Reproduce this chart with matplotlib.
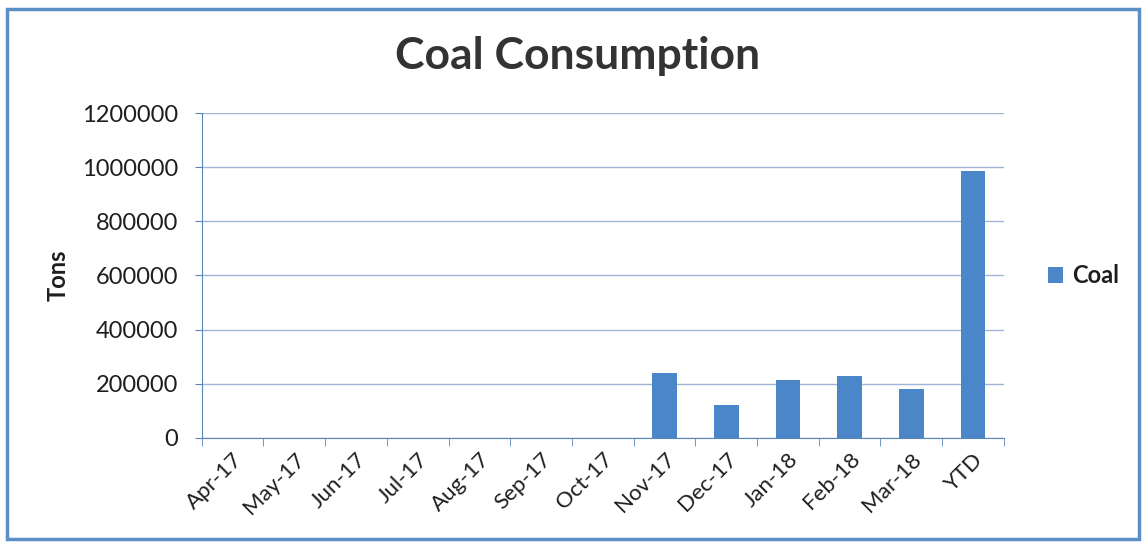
import matplotlib.pyplot as plt
import numpy as np
from matplotlib.patches import Rectangle

# Chart data
months = ['Apr-17', 'May-17', 'Jun-17', 'Jul-17', 'Aug-17', 'Sep-17', 'Oct-17',
          'Nov-17', 'Dec-17', 'Jan-18', 'Feb-18', 'Mar-18', 'YTD']
coal = [0, 0, 0, 0, 0, 0, 0, 240000, 120000, 212000, 228000, 180000, 985000]
y_ticks = [0, 200000, 400000, 600000, 800000, 1000000, 1200000]

bar_color = '#4a86c8'
grid_color = '#9fb4d6'
axis_color = '#5b86b8'
text_color = '#1e1e1e'

plt.rcParams['font.family'] = ['Lato', 'DejaVu Sans']

fig = plt.figure(figsize=(11.46, 5.46), dpi=100)
ax = fig.add_axes([0.176, 0.198, 0.700, 0.595])

x = np.arange(len(months))
ax.bar(x, coal, width=0.4, color=bar_color, label='Coal', zorder=3)

ax.set_xlim(-0.5, len(months) - 0.5)
ax.set_ylim(0, 1200000)
ax.set_yticks(y_ticks)
ax.set_yticklabels([str(v) for v in y_ticks], fontsize=17, color=text_color)
ax.yaxis.grid(True, color=grid_color, lw=1.0, zorder=0)

# category labels centred, tick marks between categories
ax.set_xticks(x)
ax.set_xticklabels(months, rotation=45, ha='right', rotation_mode='anchor',
                   fontsize=16, color=text_color)
ax.tick_params(axis='x', length=0, pad=8)
ax.set_xticks(np.arange(-0.5, len(months)), minor=True)
ax.tick_params(axis='x', which='minor', length=6, color=axis_color, direction='out')
ax.tick_params(axis='y', length=5, color=axis_color, pad=12)

for s in ['top', 'right']:
    ax.spines[s].set_visible(False)
ax.spines['left'].set_color(axis_color)
ax.spines['bottom'].set_color(axis_color)

fig.text(0.0506, 0.496, 'Tons', rotation=90, ha='center', va='center',
         fontsize=17, fontweight='bold', color=text_color)

fig.text(0.504, 0.898, 'Coal Consumption', ha='center', va='center',
         fontsize=32, fontweight='bold', color='#333333')

leg = ax.legend(loc='center left', bbox_to_anchor=(1.028, 0.5), frameon=False,
                handlelength=0.65, handleheight=0.65, handletextpad=0.4,
                prop={'size': 17, 'weight': 'bold'})
for t in leg.get_texts():
    t.set_color(text_color)

# outer chart border
fig.patches.append(Rectangle((0.006, 0.012), 0.988, 0.972, transform=fig.transFigure,
                             fill=False, edgecolor='#5a8ec4', lw=2.5))

fig.savefig('out.png', dpi=100)
